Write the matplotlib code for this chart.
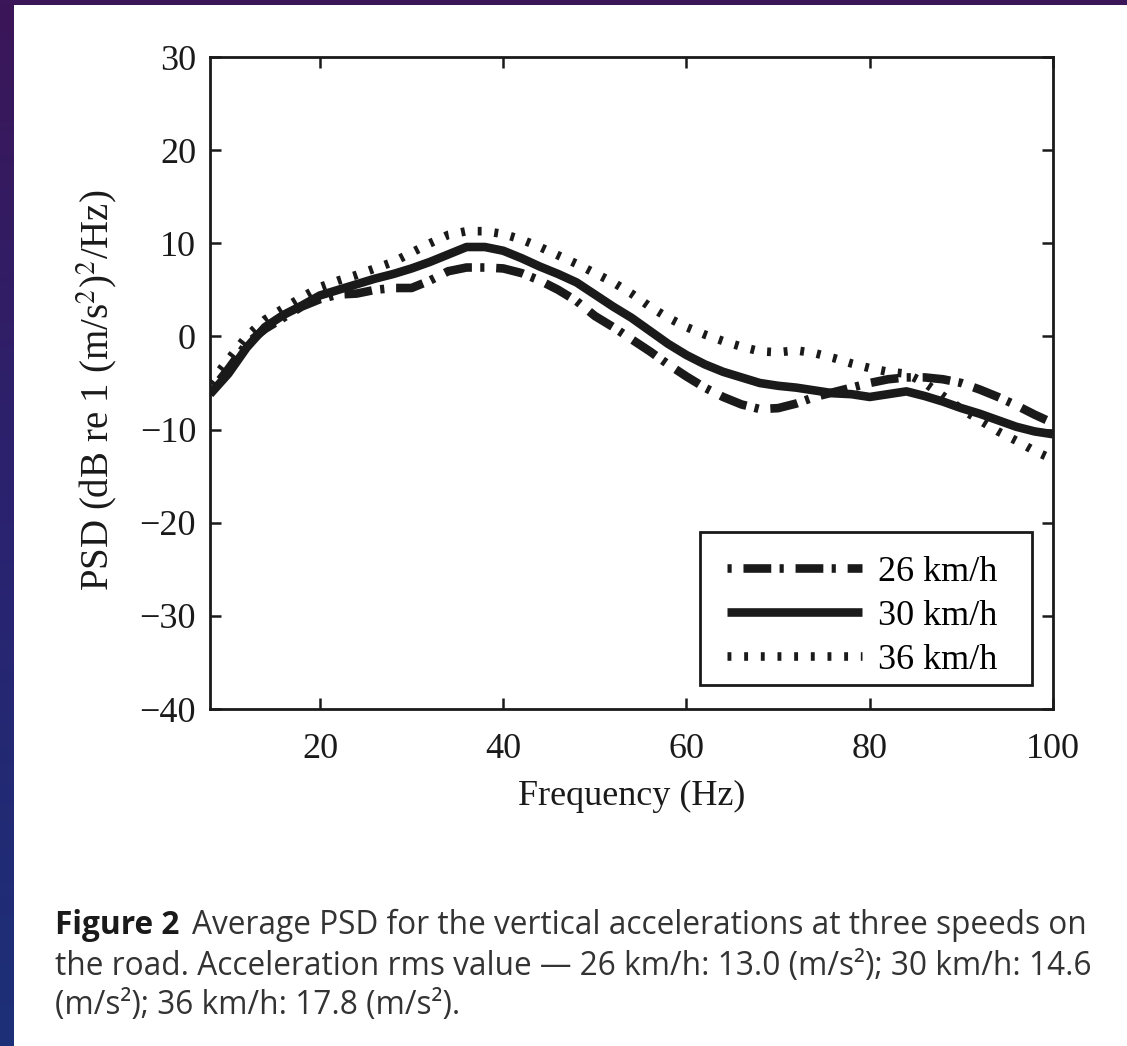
import numpy as np
import matplotlib
matplotlib.use("Agg")
import matplotlib.pyplot as plt
from matplotlib.patches import Rectangle
from matplotlib.colors import LinearSegmentedColormap

plt.rcParams['lines.scale_dashes'] = False
plt.rcParams['mathtext.fontset'] = 'stix'

# ---------------- data ----------------
freq = [8, 10, 12, 14, 16, 18, 20, 22, 24, 26, 28, 30, 32, 34, 36, 38, 40, 42, 44, 46,
        48, 50, 52, 54, 56, 58, 60, 62, 64, 66, 68, 70, 72, 74, 76, 78, 80, 82, 84, 86,
        88, 90, 92, 94, 96, 98, 100]
psd_26 = [-6.0, -3.5, -0.8, 0.8, 2.0, 3.2, 4.0, 4.5, 4.6, 5.0, 5.2, 5.2, 6.0, 7.0, 7.4, 7.4,
          7.3, 6.8, 6.0, 5.0, 3.8, 2.2, 1.0, -0.3, -1.6, -3.0, -4.3, -5.5, -6.5, -7.3, -7.8,
          -7.7, -7.2, -6.5, -6.0, -5.5, -5.0, -4.6, -4.4, -4.4, -4.6, -5.0, -5.7, -6.5, -7.4,
          -8.4, -9.3]
psd_30 = [-6.2, -4.0, -1.2, 1.0, 2.3, 3.3, 4.4, 5.0, 5.6, 6.2, 6.7, 7.3, 8.0, 8.8, 9.6, 9.6,
          9.2, 8.4, 7.5, 6.7, 5.8, 4.5, 3.2, 2.0, 0.6, -0.8, -2.0, -3.0, -3.8, -4.4, -5.0,
          -5.3, -5.5, -5.8, -6.1, -6.2, -6.5, -6.2, -5.9, -6.4, -7.0, -7.7, -8.3, -9.0, -9.7,
          -10.2, -10.5]
psd_36 = [-5.0, -2.5, 0.0, 1.8, 3.0, 4.2, 5.3, 6.0, 6.6, 7.3, 8.0, 9.0, 10.0, 10.9, 11.3, 11.3,
          11.0, 10.4, 9.6, 8.7, 7.8, 6.8, 5.8, 4.6, 3.2, 2.0, 1.0, 0.2, -0.5, -1.1, -1.6,
          -1.7, -1.5, -1.8, -2.3, -2.9, -3.4, -3.8, -4.0, -5.0, -6.4, -7.8, -9.0, -10.2, -11.2,
          -12.3, -13.2]
labels = ["26 km/h", "30 km/h", "36 km/h"]
xticks = [20, 40, 60, 80, 100]
yticks = [-40, -30, -20, -10, 0, 10, 20, 30]

W, H = 1127, 1046
fig = plt.figure(figsize=(W / 100, H / 100), dpi=100)

# background gradient + white panel
bg = fig.add_axes([0, 0, 1, 1], zorder=-10)
cmap = LinearSegmentedColormap.from_list("bg", ["#3b1658", "#2a2370", "#1c3078"])
grad = np.linspace(0, 1, 256).reshape(-1, 1)
bg.imshow(grad, aspect='auto', cmap=cmap, extent=[0, 1, 0, 1], origin='upper')
bg.add_patch(Rectangle((14 / W, 0), 1, 1 - 5 / H, facecolor='white', edgecolor='none'))
bg.set_xlim(0, 1)
bg.set_ylim(0, 1)
bg.axis('off')

serif = ['Liberation Serif', 'DejaVu Serif']
ink = '#1a1a1a'
ax = fig.add_axes([210 / W, 1 - 709 / H, (1053 - 210) / W, (709 - 57) / H])
ax.set_facecolor('none')

lw = 6.2
ax.plot(freq, psd_26, color=ink, lw=lw, linestyle=(0, (3, 8.5, 20, 6)),
        dash_capstyle='butt', label=labels[0], zorder=3)
ax.plot(freq, psd_30, color=ink, lw=lw, linestyle='-', solid_capstyle='butt',
        label=labels[1], zorder=4)
ax.plot(freq, psd_36, color=ink, lw=lw, linestyle=(0, (2.8, 9.2)),
        dash_capstyle='butt', label=labels[2], zorder=2)

ax.set_xlim(8, 100)
ax.set_ylim(-40, 30)
ax.set_xticks(xticks)
ax.set_yticks(yticks)
ax.tick_params(direction='in', length=8, width=1.8, top=True, right=True,
               labelsize=26, pad=10, color=ink, labelcolor=ink)
ax.tick_params(axis='x', pad=17)
for lab in ax.get_xticklabels() + ax.get_yticklabels():
    lab.set_fontfamily(serif)
for s in ax.spines.values():
    s.set_linewidth(2)
    s.set_color(ink)

ax.set_xlabel("Frequency (Hz)", fontsize=26, family=serif, color=ink, labelpad=10)
ax.set_ylabel(r"PSD (dB re 1 (m/s$^{2}$)$^{2}$/Hz)", fontsize=28, family=serif, color=ink)
ax.yaxis.set_label_coords(-0.108, 0.489)

# legend frame (drawn inside the axes, below the legend entries)
ax.add_patch(Rectangle((0.5813, 0.0368), 0.9751 - 0.5813, 0.2715 - 0.0368,
                       transform=ax.transAxes, facecolor='white', edgecolor=ink,
                       lw=2, zorder=5, clip_on=False))
leg = ax.legend(loc='lower left', bbox_to_anchor=(0.6133, 0.049), borderaxespad=0,
                frameon=False, prop={'family': serif, 'size': 26}, handlelength=3.75,
                handletextpad=0.42, labelspacing=0.3, borderpad=0.0)
leg.set_zorder(6)

# caption
cap_fs = 22.8
cfont = ['Open Sans', 'DejaVu Sans']
x0 = 55 / W
fig.canvas.draw()
r = fig.canvas.get_renderer()
t1 = fig.text(x0, 1 - 934 / H, "Figure 2", fontsize=cap_fs, family=cfont, weight='bold',
              color='#1a1a1a', va='baseline')
bb = t1.get_window_extent(r)
fig.text((bb.x1 + 13) / W, 1 - 934 / H,
         "Average PSD for the vertical accelerations at three speeds on",
         fontsize=cap_fs, family=cfont, color='#333333', va='baseline')
fig.text(x0, 1 - 975 / H,
         "the road. Acceleration rms value — 26 km/h: 13.0 (m/s²); 30 km/h: 14.6",
         fontsize=cap_fs, family=cfont, color='#333333', va='baseline')
fig.text(x0, 1 - 1014 / H, "(m/s²); 36 km/h: 17.8 (m/s²).",
         fontsize=cap_fs, family=cfont, color='#333333', va='baseline')

fig.savefig("out.png", dpi=100)
